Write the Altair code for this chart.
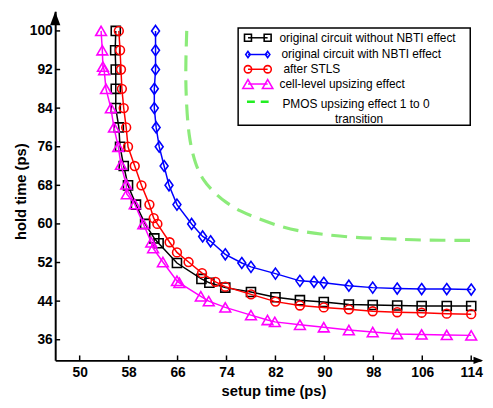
import altair as alt
import pandas as pd

# ---------------- data ----------------
x_ticks = [50, 58, 66, 74, 82, 90, 98, 106, 114]
y_ticks = [36, 44, 52, 60, 68, 76, 84, 92, 100]

black_x = [55.9, 55.8, 55.9, 55.9, 55.9, 56.4, 56.6, 57.2, 57.9, 59.2, 60.7, 62.2, 62.9,
           65.9, 69.9, 71.2, 73.8, 78.0, 82.0, 86.0, 89.9, 94.0, 97.9, 101.9, 105.9, 110.0, 114.0]
black_y = [100, 96, 92, 88, 84, 80, 76, 72, 68, 64, 60, 57.0, 56.0,
           51.9, 48.6, 47.8, 46.8, 45.9, 44.8, 44.2, 43.8, 43.3, 43.2, 43.1, 43.0, 43.0, 43.0]

blue_x = [62.4, 62.4, 62.4, 62.2, 62.2, 62.5, 63.0, 63.8, 64.6, 65.9, 68.3, 70.1, 71.4,
          73.8, 76.5, 78.0, 82.0, 86.0, 88.3, 89.9, 94.0, 97.9, 101.9, 105.9, 110.0, 114.0]
blue_y = [100, 96, 92, 88, 84, 80, 76, 72, 68, 64, 60, 57.4, 56.4,
          53.7, 51.9, 51.1, 49.7, 48.2, 48.0, 47.8, 47.2, 46.8, 46.6, 46.5, 46.5, 46.4]

red_x = [56.4, 56.6, 56.75, 56.9, 57.2, 57.6, 57.9, 59.0, 60.1, 61.4, 62.1, 62.7, 64.7, 65.9,
         67.8, 70.0, 72.2, 73.8, 78.0, 82.0, 86.0, 89.9, 94.0, 97.9, 101.9, 105.9, 110.0, 114.0]
red_y = [100, 96, 92, 88, 84, 80, 76, 72, 68, 64, 61.2, 60.0, 56.2, 54.1,
         52.1, 49.8, 48.0, 47.0, 45.4, 43.9, 43.1, 42.7, 42.3, 41.9, 41.7, 41.6, 41.4, 41.3]

magenta_x = [53.5, 53.7, 53.8, 54.0, 54.3, 55.1, 55.6, 56.3, 56.75, 57.6, 57.7, 59.0, 60.4, 61.7,
             62.0, 63.6, 65.9, 66.3, 69.8, 71.1, 73.8, 78.0, 80.7, 81.9, 86.0, 89.9, 94.0, 97.9,
             101.9, 105.9, 110.0, 114.0]
magenta_y = [100, 96, 92.6, 91.9, 88, 84, 80, 76, 72.3, 68.2, 66.2, 64.1, 60.0, 56.2,
             55.0, 52.1, 48.2, 47.8, 45.0, 44.0, 42.7, 41.1, 40.1, 39.7, 39.1, 38.6, 38.0, 37.6,
             37.2, 37.1, 37.0, 36.9]

green_x = [67.5, 67.3, 67.4, 67.8, 68.9, 70.2, 71.9, 73.8, 76.4, 78.8, 82.8, 86.3, 90.0, 94.4,
           98.6, 102.9, 106.6, 114.0]
green_y = [100, 92, 86, 78, 72.3, 69.0, 66.6, 64.5, 62.5, 61.3, 59.4, 58.4, 57.8, 57.2,
           57.0, 56.8, 56.6, 56.6]

legend_labels = [
    "original circuit without NBTI effect",
    "original circuit with NBTI effect",
    "after STLS",
    "cell-level upsizing effect",
    "PMOS upsizing effect 1 to 0",
    "transition",
]

# ---------------- layout / style ----------------
W, H = 433, 355
FONT = "Liberation Sans"
LFS = 12.1
xs = alt.Scale(domain=[46, 115.61], nice=False, zero=False)
ys = alt.Scale(domain=[31.72, 104.08], nice=False, zero=False)

x_axis = alt.Axis(values=x_ticks, ticks=False, tickSize=0, grid=False, domainColor="black",
                  domainWidth=2, labelFont=FONT, labelFontWeight="bold", labelFontSize=14,
                  labelColor="black", labelPadding=5, labelFlush=False,
                  title="setup time (ps)", titleFont=FONT, titleFontSize=15,
                  titleFontWeight="bold", titleColor="black", titleX=222, titleY=31,
                  titleBaseline="middle", titleAlign="center")
y_axis = alt.Axis(values=y_ticks, ticks=False, tickSize=0, grid=False, domainColor="black",
                  domainWidth=2, labelFont=FONT, labelFontWeight="bold", labelFontSize=14,
                  labelColor="black", labelPadding=3, labelFlush=False,
                  title="hold time (ps)", titleFont=FONT, titleFontSize=15,
                  titleFontWeight="bold", titleColor="black", titleX=-35, titleY=183,
                  titleAngle=270, titleBaseline="middle", titleAlign="center")

X = lambda f="x": alt.X(f"{f}:Q", scale=xs, axis=x_axis)
Y = lambda f="y": alt.Y(f"{f}:Q", scale=ys, axis=y_axis)


def frame(xv, yv):
    return pd.DataFrame({"x": xv, "y": yv, "i": list(range(len(xv)))})


def series(xv, yv, color, shape, size, lw=1.5):
    base = alt.Chart(frame(xv, yv))
    line = base.mark_line(color=color, strokeWidth=lw).encode(x=X(), y=Y(), order="i:Q")
    pts = base.mark_point(shape=shape, size=size, color=color, filled=False,
                          strokeWidth=1.6, opacity=1).encode(x=X(), y=Y())
    return [line, pts]


DIAMOND = "M0,-1L0.72,0L0,1L-0.72,0Z"

layers = []
# inward tick marks
layers.append(alt.Chart(pd.DataFrame({"v": x_ticks})).mark_rule(color="black", strokeWidth=1.5)
              .encode(x=X("v"), y=alt.value(H), y2=alt.value(H - 5)))
layers.append(alt.Chart(pd.DataFrame({"v": y_ticks})).mark_rule(color="black", strokeWidth=1.5)
              .encode(y=Y("v"), x=alt.value(0), x2=alt.value(5)))

# green dashed curve
layers.append(alt.Chart(frame(green_x, green_y))
              .mark_line(color="#8CEB7A", strokeWidth=3.2, strokeDash=[16, 9], interpolate="basis")
              .encode(x=X(), y=Y(), order="i:Q"))
layers += series(black_x, black_y, "black", "square", 85)
layers += series(blue_x, blue_y, "#0000FF", DIAMOND, 125)
layers += series(red_x, red_y, "#FF0000", "circle", 80)
layers += series(magenta_x, magenta_y, "#FF00FF", "triangle-up", 120)

# arrows on axes
one = pd.DataFrame({"k": [0]})
layers.append(alt.Chart(one).mark_point(shape="M0,-1L0.6,0.6L-0.6,0.6Z", filled=True,
                                        color="black", size=300, opacity=1)
              .encode(x=alt.value(0), y=alt.value(9)))
layers.append(alt.Chart(one).mark_point(shape="M1,0L-0.6,-0.6L-0.6,0.6Z", filled=True,
                                        color="black", size=150, opacity=1)
              .encode(x=alt.value(W - 4), y=alt.value(H)))

# legend box
layers.append(alt.Chart(one).mark_rect(fill="white", stroke="black", strokeWidth=1.5)
              .encode(x=alt.value(186), x2=alt.value(422), y=alt.value(17), y2=alt.value(116)))


def leg_entry(y, color, shape, size, text, tx, lw=1.5):
    out = [alt.Chart(one).mark_rule(color=color, strokeWidth=lw)
           .encode(x=alt.value(196), x2=alt.value(216), y=alt.value(y))]
    for px in (196, 216):
        out.append(alt.Chart(one).mark_point(shape=shape, size=size, color=color, filled=False,
                                             strokeWidth=1.6, opacity=1)
                   .encode(x=alt.value(px), y=alt.value(y)))
    out.append(alt.Chart(one).mark_text(align="left", baseline="middle", font=FONT,
                                        fontSize=LFS, color="black")
               .encode(x=alt.value(tx), y=alt.value(y), text=alt.value(text)))
    return out


layers += leg_entry(27, "black", "square", 50, legend_labels[0], 228)
layers += leg_entry(44, "#0000FF", DIAMOND, 40, legend_labels[1], 230)
layers += leg_entry(59, "#FF0000", "circle", 55, legend_labels[2], 232)
layers += leg_entry(74, "#FF00FF", "triangle-up", 110, legend_labels[3], 228)

# green legend entry (dashes only)
layers.append(alt.Chart(one).mark_rule(color="#22EE22", strokeWidth=2.5, strokeDash=[8, 6])
              .encode(x=alt.value(195), x2=alt.value(217), y=alt.value(92)))
layers.append(alt.Chart(one).mark_text(align="left", baseline="middle", font=FONT,
                                       fontSize=LFS, color="black")
              .encode(x=alt.value(231), y=alt.value(94), text=alt.value(legend_labels[4])))
layers.append(alt.Chart(one).mark_text(align="center", baseline="middle", font=FONT,
                                       fontSize=LFS, color="black")
              .encode(x=alt.value(309), y=alt.value(110), text=alt.value(legend_labels[5])))

chart = (alt.layer(*layers)
         .properties(width=W, height=H,
                     autosize=alt.AutoSizeParams(type="none"),
                     padding={"left": 48, "top": 0, "right": 4, "bottom": 37},
                     background="white")
         .configure_view(stroke=None))

chart.save("out.html", embed_options={"renderer": "svg", "actions": False})
